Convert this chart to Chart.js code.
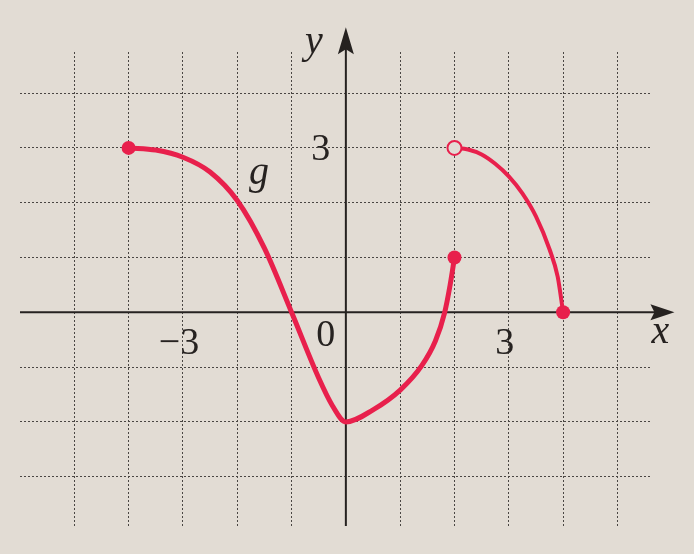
<!DOCTYPE html>
<html>
<head>
<meta charset="utf-8">
<script src="https://cdn.jsdelivr.net/npm/chart.js@4"></script>
<style>
  html, body { margin: 0; padding: 0; background: #fff; }
  #wrap { width: 694px; height: 554px; background: #e2dcd4; }
</style>
</head>
<body>
<div id="wrap"><canvas id="graph" width="694" height="554"></canvas></div>
<script>
// left piece of g, from the filled dot at (-4,3) to the filled dot at (2,1)
const leftX = [-4, -3.5, -3, -2.5, -2, -1.5, -1, -0.5, -0.25, 0, 0.5, 1, 1.4, 1.65, 1.82, 1.92, 2];
const leftY = [3, 2.96, 2.83, 2.56, 2.04, 1.17, 0, -1.2, -1.7, -2, -1.78, -1.42, -0.97, -0.52, 0, 0.5, 1];
// right piece, open dot at (2,3) down to the filled dot at (4,0)
const rightX = [2, 2.25, 2.5, 2.75, 3, 3.25, 3.5, 3.75, 3.9, 4];
const rightY = [3, 2.97, 2.88, 2.71, 2.48, 2.17, 1.75, 1.15, 0.65, 0];
// grid lines
const gridX = [-5, -4, -3, -2, -1, 0, 1, 2, 3, 4, 5];
const gridY = [-3, -2, -1, 0, 1, 2, 3, 4];
// labels on the axes
const xLabels = [-3, 0, 3];
const yLabels = [3];

const red = '#e8204c';
const paper = '#e2dcd4';
const ink = '#262220';

function toPoints(xs, ys) {
    return xs.map((x, i) => ({ x: x, y: ys[i] }));
}

const axesPlugin = {
    id: 'axes',
    beforeDatasetsDraw(chart) {
        const ctx = chart.ctx;
        const xs = chart.scales.x;
        const ys = chart.scales.y;
        const x0 = xs.getPixelForValue(0);
        const y0 = ys.getPixelForValue(0);
        const xEnd = xs.getPixelForValue(6.05);
        const yTop = ys.getPixelForValue(5.2);

        ctx.save();
        ctx.strokeStyle = ink;
        ctx.fillStyle = ink;
        ctx.lineWidth = 2;
        // x axis
        ctx.beginPath();
        ctx.moveTo(chart.chartArea.left, y0);
        ctx.lineTo(xEnd - 10, y0);
        ctx.stroke();
        ctx.beginPath();
        ctx.moveTo(xEnd, y0);
        ctx.lineTo(xEnd - 24, y0 - 8);
        ctx.lineTo(xEnd - 20, y0);
        ctx.lineTo(xEnd - 24, y0 + 8);
        ctx.closePath();
        ctx.fill();
        // y axis
        ctx.beginPath();
        ctx.moveTo(x0, chart.chartArea.bottom);
        ctx.lineTo(x0, yTop + 10);
        ctx.stroke();
        ctx.beginPath();
        ctx.moveTo(x0, yTop);
        ctx.lineTo(x0 - 8, yTop + 27);
        ctx.lineTo(x0, yTop + 22);
        ctx.lineTo(x0 + 8, yTop + 27);
        ctx.closePath();
        ctx.fill();

        // numbers
        ctx.font = '38px "Liberation Serif", "DejaVu Serif", serif';
        ctx.textAlign = 'center';
        ctx.textBaseline = 'alphabetic';
        xLabels.forEach(v => {
            const txt = v < 0 ? '\u2212' + Math.abs(v) : String(v);
            const dx = v < 0 ? -4 : (v === 0 ? -20 : -4);
            const dy = v === 0 ? 34 : 42;
            ctx.fillText(txt, xs.getPixelForValue(v) + dx, y0 + dy);
        });
        yLabels.forEach(v => {
            ctx.fillText(String(v), x0 - 25, ys.getPixelForValue(v) + 12);
        });

        // variable names
        ctx.font = 'italic 40px "Liberation Serif", "DejaVu Serif", serif';
        ctx.fillText('y', x0 - 32, yTop + 26);
        ctx.fillText('x', xEnd - 14, y0 + 31);
        ctx.fillText('g', xs.getPixelForValue(-1.6), ys.getPixelForValue(2.35));
        ctx.restore();
    }
};

new Chart(document.getElementById('graph'), {
    type: 'scatter',
    data: {
        datasets: [{
            data: toPoints(leftX, leftY),
            showLine: true,
            borderColor: red,
            borderWidth: 5,
            cubicInterpolationMode: 'monotone',
            pointRadius: ctx => (ctx.dataIndex === 0 || ctx.dataIndex === leftX.length - 1) ? 7 : 0,
            pointBackgroundColor: red,
            pointBorderColor: red,
            pointBorderWidth: 0,
            clip: false
        }, {
            data: toPoints(rightX, rightY),
            showLine: true,
            borderColor: red,
            borderWidth: 4,
            cubicInterpolationMode: 'monotone',
            pointRadius: ctx => (ctx.dataIndex === 0 || ctx.dataIndex === rightX.length - 1) ? 7 : 0,
            pointBackgroundColor: ctx => ctx.dataIndex === 0 ? paper : red,
            pointBorderColor: red,
            pointBorderWidth: ctx => ctx.dataIndex === 0 ? 2 : 0,
            clip: false
        }]
    },
    options: {
        responsive: false,
        animation: false,
        events: [],
        layout: { padding: { left: 20, right: 44, top: 52, bottom: 28 } },
        plugins: { legend: { display: false }, tooltip: { enabled: false } },
        scales: {
            x: {
                type: 'linear',
                min: -6,
                max: 5.6,
                afterBuildTicks: scale => { scale.ticks = gridX.map(v => ({ value: v })); },
                ticks: { display: false },
                grid: { color: '#4a4643', lineWidth: 1, drawTicks: false },
                border: { display: false, dash: [2, 2] }
            },
            y: {
                type: 'linear',
                min: -3.9,
                max: 4.75,
                afterBuildTicks: scale => { scale.ticks = gridY.map(v => ({ value: v })); },
                ticks: { display: false },
                grid: { color: '#4a4643', lineWidth: 1, drawTicks: false },
                border: { display: false, dash: [2, 2] }
            }
        }
    },
    plugins: [axesPlugin]
});
</script>
</body>
</html>
